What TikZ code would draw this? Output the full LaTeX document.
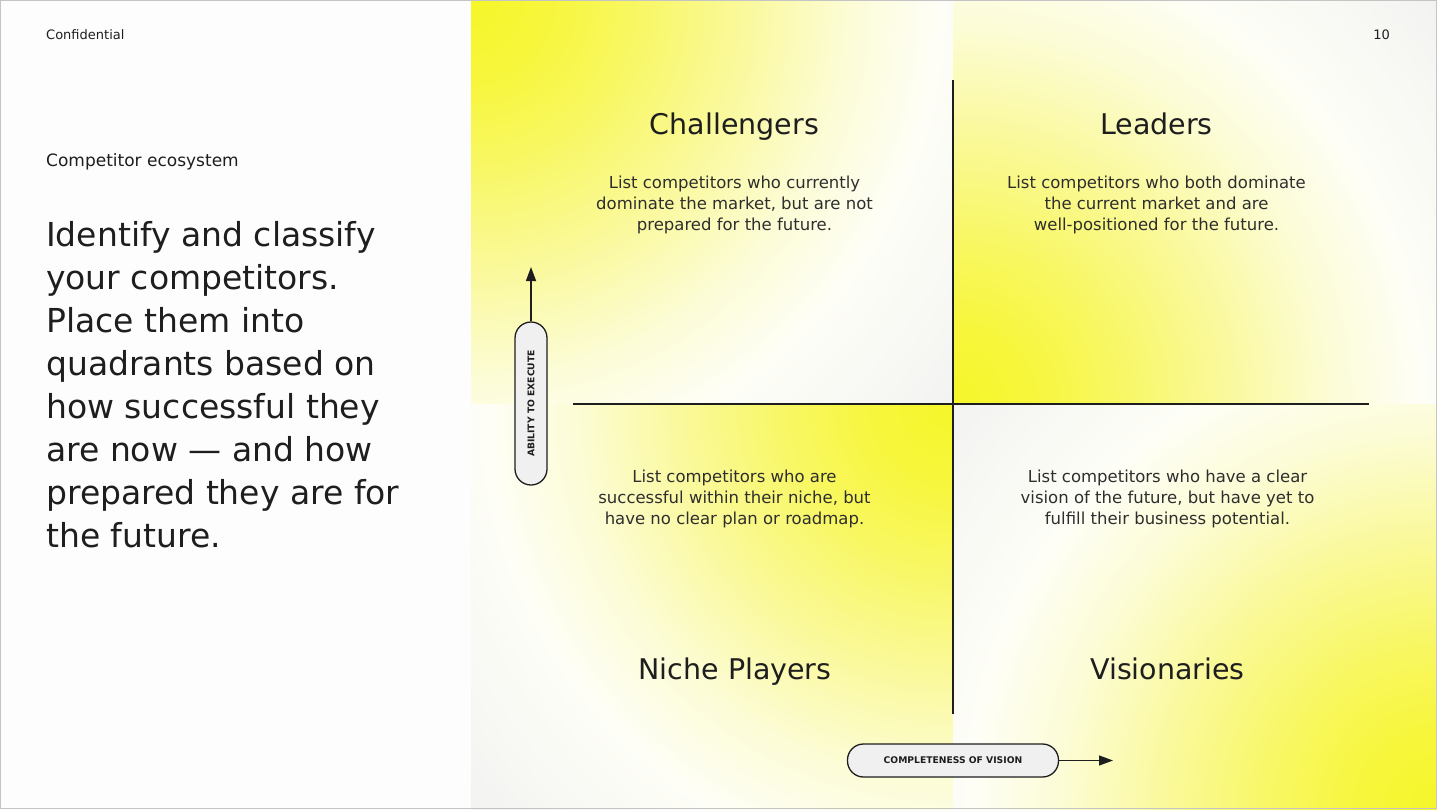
\documentclass[tikz,border=0pt]{standalone}
\usepackage{fontspec}
\setmainfont{DejaVu Sans}
\usetikzlibrary{arrows.meta}
\definecolor{ink}{HTML}{1E1E1E}
\definecolor{bodyink}{HTML}{2E2E2E}
\definecolor{pillfill}{HTML}{F0F0F0}
\definecolor{framegray}{HTML}{C4C4C4}
\definecolor{paper}{HTML}{FDFDFD}
\definecolor{yA}{HTML}{F6F62A}
\definecolor{yB}{HTML}{F7F63C}
\definecolor{yC}{HTML}{F8F762}
\definecolor{yD}{HTML}{FAF99C}
\definecolor{yE}{HTML}{FCFCD6}
\definecolor{yW}{HTML}{FEFEF7}
\definecolor{yF}{HTML}{F1F1F1}
\pgfdeclareradialshading{yglow}{\pgfpoint{0bp}{0bp}}{color(0bp)=(yA); color(3bp)=(yB); color(6.25bp)=(yC); color(10.5bp)=(yD); color(14.5bp)=(yE); color(18bp)=(yW); color(25bp)=(yF); color(50bp)=(yF)}
\tikzset{
  qtitle/.style={font=\fontsize{28.5}{34}\selectfont, text=ink, anchor=base, inner sep=0pt},
  bodytext/.style={font=\fontsize{16.5}{21.3}\selectfont, text=bodyink, align=center, anchor=north, inner sep=0pt},
  leadtext/.style={font=\fontsize{33}{43}\selectfont, text=ink, align=left, anchor=north west, inner sep=0pt},
  smalltxt/.style={font=\fontsize{13}{15}\selectfont, text=ink, inner sep=0pt},
  pill/.style={draw=ink, line width=1.3pt, fill=pillfill, rounded corners=16pt, inner sep=0pt,
    font=\fontsize{9.2}{11}\selectfont\bfseries, text=ink},
  axisline/.style={draw=ink, line width=1.4pt},
  axisarrow/.style={draw=ink, line width=1.3pt, -{Triangle[length=14pt,width=10pt]}}
}
\begin{document}
\begin{tikzpicture}[x=1pt,y=-1pt]
\useasboundingbox (0,0) rectangle (1437,809);
\fill[paper] (0,0) rectangle (1437,809);
% gradient panels
\foreach \xa/\ya/\xb/\yb/\cx/\cy in {471/0/953/404/471/0, 953/0/1437/404/953/404, 471/404/953/809/953/404, 953/404/1437/809/1437/809}{
  \begin{scope}
    \clip (\xa,\ya) rectangle (\xb,\yb);
    \shade[shading=yglow] (\cx-650,\cy-650) rectangle (\cx+650,\cy+650);
  \end{scope}
}
\draw[framegray, line width=1pt] (0.5,0.5) rectangle (1436.5,808.5);

% header texts
\node[smalltxt, anchor=base west] (conf) at (46,39) {Confidential};
\node[smalltxt, anchor=base east] (pagenum) at (1390,39) {10};
\node[font=\fontsize{17}{20}\selectfont, text=ink, inner sep=0pt, anchor=base west] (section) at (46,166.5) {Competitor ecosystem};
\node[leadtext] (lead) at (46,221) {Identify and classify\\your competitors.\\Place them into\\quadrants based on\\how successful they\\are now — and how\\prepared they are for\\the future.};

% quadrant axes
\coordinate (vtop) at (953,80);
\coordinate (vbot) at (953,714);
\coordinate (hleft) at (573,404);
\coordinate (hright) at (1369,404);
\draw[axisline] (vtop) -- (vbot);
\draw[axisline] (hleft) -- (hright);

% quadrant titles
\node[qtitle] (challengers) at (734.5,134) {Challengers};
\node[qtitle] (leaders) at (1156.5,134) {Leaders};
\node[qtitle] (niche) at (735,679) {Niche Players};
\node[qtitle] (visionaries) at (1167.5,679) {Visionaries};

% quadrant descriptions
\node[bodytext] (challengersdesc) at (734.5,175.5) {List competitors who currently\\dominate the market, but are not\\prepared for the future.};
\node[bodytext] (leadersdesc) at (1156.5,175.5) {List competitors who both dominate\\the current market and are\\well-positioned for the future.};
\node[bodytext] (nichedesc) at (734.5,469.5) {List competitors who are\\successful within their niche, but\\have no clear plan or roadmap.};
\node[bodytext] (visionariesdesc) at (1167.5,469.5) {List competitors who have a clear\\vision of the future, but have yet to\\fulfill their business potential.};

% axis pills
\node[pill, minimum width=211pt, minimum height=33pt] (vision) at (953,760.5) {COMPLETENESS OF VISION};
\node[pill, rotate=90, minimum width=163pt, minimum height=32pt] (ability) at (531,403.5) {ABILITY TO EXECUTE};
\coordinate (visiontip) at (1113,760.5);
\coordinate (abilitytip) at (531,267);
\draw[axisarrow] (vision.east) -- (visiontip);
\draw[axisarrow] (ability.east) -- (abilitytip);
\end{tikzpicture}
\end{document}
